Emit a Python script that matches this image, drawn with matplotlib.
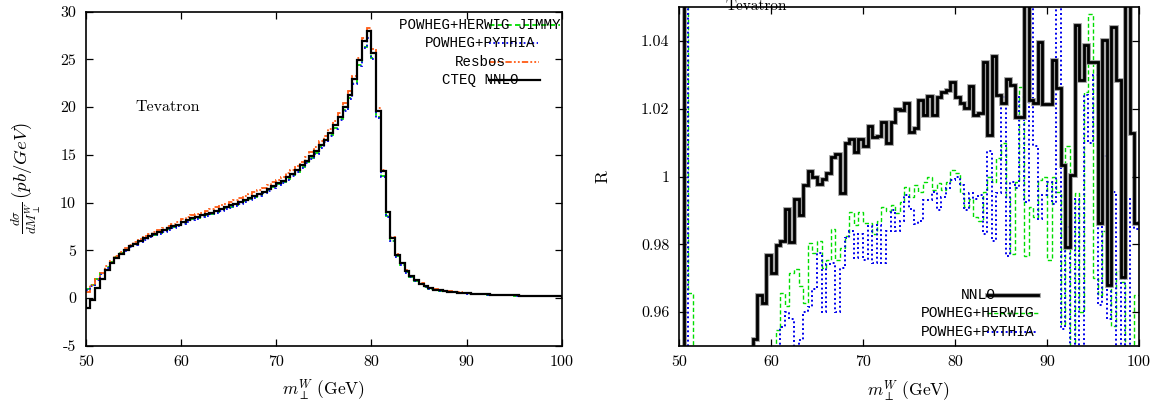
import numpy as np
import matplotlib
matplotlib.use("Agg")
import matplotlib.pyplot as plt

plt.rcParams["font.family"] = ["cmr10", "DejaVu Serif"]
plt.rcParams["mathtext.fontset"] = "cm"
plt.rcParams["axes.unicode_minus"] = False
plt.rcParams["axes.formatter.use_mathtext"] = True

# ---------------------------------------------------------------------------
# transverse-mass histograms, 0.5 GeV bins from 50 to 100 GeV
bin_edges = np.arange(50.0, 100.01, 0.5)

cteq_nnlo = [
    -1.0, -0.2, 1.05, 2.0, 2.95, 3.7, 4.2, 4.65, 5.05, 5.4,
    5.7, 6.0, 6.25, 6.5, 6.7, 6.9, 7.1, 7.3, 7.5, 7.7,
    7.95, 8.15, 8.35, 8.5, 8.65, 8.8, 8.95, 9.1, 9.3, 9.5,
    9.7, 9.85, 10.05, 10.25, 10.45, 10.7, 10.9, 11.15, 11.45, 11.75,
    12.0, 12.3, 12.65, 13.0, 13.4, 13.95, 14.4, 14.9, 15.4, 16.0,
    16.6, 17.3, 18.1, 19.0, 20.0, 21.3, 22.9, 24.9, 26.9, 28.0,
    25.7, 19.6, 13.3, 9.0, 6.3, 4.5, 3.65, 2.8, 2.26, 1.85,
    1.5, 1.22, 1.0, 0.88, 0.8, 0.72, 0.66, 0.61, 0.56, 0.52,
    0.48, 0.45, 0.42, 0.39, 0.37, 0.35, 0.33, 0.31, 0.3, 0.28,
    0.27, 0.26, 0.24, 0.23, 0.22, 0.21, 0.2, 0.19, 0.18, 0.17,
]
resbos = [
    0.6, 1.4, 2.0, 2.6, 3.3, 3.85, 4.4, 4.85, 5.2, 5.55,
    5.85, 6.15, 6.45, 6.7, 6.95, 7.15, 7.35, 7.55, 7.8, 8.0,
    8.25, 8.45, 8.65, 8.8, 8.95, 9.15, 9.3, 9.5, 9.7, 9.9,
    10.1, 10.25, 10.45, 10.65, 10.85, 11.1, 11.3, 11.55, 11.85, 12.15,
    12.4, 12.7, 13.05, 13.4, 13.8, 14.3, 14.8, 15.3, 15.8, 16.4,
    17.0, 17.7, 18.5, 19.4, 20.4, 21.7, 23.3, 25.2, 27.2, 28.3,
    26.1, 19.9, 13.4, 9.0, 6.35, 4.6, 3.7, 2.9, 2.3, 1.9,
    1.55, 1.27, 1.05, 0.92, 0.83, 0.75, 0.68, 0.63, 0.58, 0.54,
    0.5, 0.46, 0.43, 0.4, 0.38, 0.36, 0.34, 0.32, 0.3, 0.29,
    0.28, 0.26, 0.25, 0.24, 0.23, 0.21, 0.2, 0.19, 0.18, 0.17,
]
powheg_herwig = [
    0.9, 1.4, 2.0, 2.6, 3.2, 3.8, 4.3, 4.7, 5.05, 5.4,
    5.7, 5.95, 6.2, 6.45, 6.65, 6.85, 7.05, 7.25, 7.45, 7.65,
    7.85, 8.05, 8.25, 8.4, 8.55, 8.7, 8.85, 9.0, 9.2, 9.4,
    9.55, 9.75, 9.95, 10.15, 10.35, 10.55, 10.8, 11.05, 11.3, 11.6,
    11.9, 12.2, 12.5, 12.85, 13.25, 13.75, 14.2, 14.7, 15.2, 15.8,
    16.45, 17.1, 17.85, 18.75, 19.7, 21.0, 22.5, 24.4, 26.3, 27.3,
    25.1, 19.0, 12.8, 8.6, 6.0, 4.35, 3.5, 2.7, 2.18, 1.78,
    1.45, 1.2, 0.98, 0.86, 0.78, 0.7, 0.64, 0.6, 0.55, 0.51,
    0.47, 0.44, 0.41, 0.38, 0.36, 0.34, 0.32, 0.3, 0.29, 0.28,
    0.26, 0.25, 0.24, 0.23, 0.22, 0.21, 0.2, 0.19, 0.18, 0.17,
]
powheg_pythia = [
    0.8, 1.3, 1.9, 2.5, 3.1, 3.7, 4.2, 4.6, 4.95, 5.3,
    5.6, 5.85, 6.1, 6.35, 6.55, 6.75, 6.95, 7.15, 7.35, 7.55,
    7.75, 7.95, 8.15, 8.3, 8.45, 8.6, 8.75, 8.9, 9.1, 9.3,
    9.45, 9.65, 9.85, 10.05, 10.25, 10.45, 10.7, 10.95, 11.2, 11.5,
    11.8, 12.1, 12.4, 12.75, 13.15, 13.65, 14.1, 14.6, 15.1, 15.7,
    16.35, 17.0, 17.75, 18.65, 19.6, 20.9, 22.4, 24.3, 26.2, 27.2,
    25.0, 18.9, 12.7, 8.5, 5.95, 4.3, 3.45, 2.65, 2.15, 1.75,
    1.43, 1.18, 0.97, 0.85, 0.77, 0.69, 0.63, 0.59, 0.54, 0.5,
    0.46, 0.43, 0.4, 0.37, 0.35, 0.33, 0.31, 0.3, 0.28, 0.27,
    0.26, 0.25, 0.24, 0.23, 0.22, 0.21, 0.2, 0.19, 0.18, 0.17,
]

# ratios R per bin (values outside 0.95-1.05 run off the frame)
ratio_nnlo = [
    1.20, 0.90, 0.90, 0.90, 0.90, 0.90, 0.90, 0.90, 0.90, 0.90,
    0.90, 0.90, 0.90, 0.90, 0.90, 0.90, 0.952, 0.965, 0.9627, 0.9768,
    0.9714, 0.9798, 0.981, 0.9904, 0.9808, 0.9934, 0.9886, 0.9975, 1.0016, 1.0000,
    0.9977, 0.9994, 1.001, 1.0058, 1.0066, 0.995, 1.010, 1.011, 1.0073, 1.011,
    1.009, 1.015, 1.0117, 1.012, 1.016, 1.010, 1.016, 1.020, 1.0196, 1.0216,
    1.0132, 1.0142, 1.0226, 1.018, 1.0237, 1.018, 1.0235, 1.025, 1.0255, 1.028,
    1.0235, 1.0216, 1.0201, 1.0267, 1.0181, 1.0188, 1.0339, 1.0122, 1.0354, 1.0241,
    1.0216, 1.0288, 1.027, 1.0176, 1.0176, 1.10, 1.0226, 1.0216, 1.0398, 1.0214,
    1.0214, 1.0344, 1.026, 1.0035, 0.9793, 1.0005, 1.0447, 1.0285, 1.0388, 1.0339,
    1.0339, 0.9862, 1.0403, 0.968, 1.044, 1.0285, 0.9705, 1.10, 1.0127, 0.9862,
]
ratio_herwig = [
    0.90, 1.10, 0.9656, 0.90, 0.90, 0.90, 0.90, 0.90, 0.90, 0.90,
    0.90, 0.90, 0.90, 0.90, 0.90, 0.90, 0.90, 0.90, 0.90, 0.90,
    0.90, 0.9547, 0.9657, 0.9618, 0.9714, 0.9726, 0.9677, 0.9626, 0.9805, 0.9775,
    0.9810, 0.9729, 0.9754, 0.9844, 0.9754, 0.9788, 0.9825, 0.9894, 0.9857, 0.9896,
    0.9864, 0.9864, 0.983, 0.9870, 0.9911, 0.9898, 0.9915, 0.9893, 0.9925, 0.9968,
    0.9941, 0.9975, 0.9955, 0.9985, 1.0000, 0.9960, 0.9980, 0.9960, 0.9985, 1.0020,
    1.0010, 0.9950, 0.9910, 0.9935, 0.9880, 0.9870, 0.9955, 1.0000, 0.9985, 1.0055,
    1.0100, 0.9940, 0.9770, 0.9985, 1.0265, 0.9765, 0.9910, 0.9880, 0.9990, 1.0000,
    0.9755, 1.0000, 0.9955, 0.9565, 1.0090, 0.9400, 0.9950, 0.9600, 1.0250, 1.0480,
    0.9700, 0.9650, 0.9840, 0.9970, 0.9560, 0.9720, 0.9690, 0.9500, 0.9400, 0.9650,
]
ratio_pythia = [
    0.90, 1.10, 0.90, 0.90, 0.90, 0.90, 0.90, 0.90, 0.90, 0.90,
    0.90, 0.90, 0.90, 0.90, 0.90, 0.90, 0.90, 0.90, 0.90, 0.90,
    0.90, 0.90, 0.9557, 0.9601, 0.9580, 0.90, 0.9518, 0.9600, 0.9615, 0.9668,
    0.9775, 0.9600, 0.9742, 0.9745, 0.9600, 0.9730, 0.9820, 0.9840, 0.9760, 0.9830,
    0.9755, 0.9855, 0.9745, 0.9858, 0.9745, 0.9840, 0.9900, 0.9840, 0.9870, 0.9945,
    0.9905, 0.9860, 0.9870, 0.9930, 0.9930, 0.9955, 0.9900, 0.9940, 0.9965, 0.9990,
    1.0000, 0.9975, 0.9900, 0.9950, 0.9935, 0.9945, 0.9830, 1.0075, 0.9810, 0.9950,
    1.0235, 0.9765, 0.9985, 0.9965, 1.0235, 0.9925, 1.0600, 1.0090, 0.9875, 0.9945,
    0.9985, 0.9920, 1.0800, 0.9550, 0.9850, 0.9200, 0.9935, 0.9200, 1.0240, 1.0100,
    1.0300, 0.9620, 1.0060, 0.9580, 0.9955, 0.9300, 0.9955, 0.9300, 0.9935, 0.9845,
]

x_ticks = [50, 60, 70, 80, 90, 100]
x_tick_labels = ["50", "60", "70", "80", "90", "100"]
left_y_ticks = [-5, 0, 5, 10, 15, 20, 25, 30]
left_y_tick_labels = ["-5", "0", "5", "10", "15", "20", "25", "30"]
right_y_ticks = [0.96, 0.98, 1.0, 1.02, 1.04]
right_y_tick_labels = ["0.96", "0.98", "1", "1.02", "1.04"]

left_names = ["POWHEG+HERWIG JIMMY", "POWHEG+PYTHIA", "Resbos", "CTEQ NNLO"]
right_names = ["NNLO", "POWHEG+HERWIG", "POWHEG+PYTHIA"]

GREEN = "#00dd00"
BLUE = "#0000ee"
ORANGE = "#ff5a14"
GREY = "#9a9a9a"

dashed = (0, (3.0, 1.8))
dotted = (0, (1.0, 1.4))
dashdotdot = (0, (3.5, 1.2, 1.0, 1.2, 1.0, 1.2))

fig = plt.figure(figsize=(11.62, 4.09), dpi=100)
W, H = 1162.0, 409.0
ax1 = fig.add_axes([85.7 / W, 1 - 345.7 / H, (561.7 - 85.7) / W, (345.7 - 11.7) / H])
ax2 = fig.add_axes([679.0 / W, 1 - 346.0 / H, (1139.0 - 679.0) / W, (346.0 - 7.0) / H])

for ax in (ax1, ax2):
    ax.tick_params(direction="in", top=True, right=True, length=5, width=0.9,
                   labelsize=11.5, pad=7)
    for sp in ax.spines.values():
        sp.set_linewidth(1.2)

# ---------------- left: distributions ----------------
ax1.stairs(powheg_herwig, bin_edges, baseline=None, color=GREEN, lw=1.3, linestyle=dashed)
ax1.stairs(powheg_pythia, bin_edges, baseline=None, color=BLUE, lw=1.3, linestyle=dotted)
ax1.stairs(resbos, bin_edges, baseline=None, color=ORANGE, lw=1.3, linestyle=dashdotdot)
ax1.stairs(cteq_nnlo, bin_edges, baseline=0, color="black", lw=1.6)

ax1.set_xlim(50, 100)
ax1.set_ylim(-5, 30)
ax1.set_xticks(x_ticks, x_tick_labels)
ax1.set_yticks(left_y_ticks, left_y_tick_labels)
ax1.set_xlabel(r"$m_\perp^W$ (GeV)", fontsize=12.5, labelpad=6)
ax1.set_ylabel(r"$\frac{d\sigma}{dM_\perp^W}\,(pb/GeV)$", fontsize=13.5, labelpad=12)
ax1.text(55.2, 20.05, "Tevatron", fontsize=11.5, va="center", ha="left")

mono = dict(family="Liberation Mono", fontsize=10.2, va="center", ha="left")
key_left_x = [82.9, 85.64, 88.8, 87.43]
key_left_y = [28.64, 26.75, 24.76, 22.87]
key_left_end = [99.8, 97.5, 97.6, 97.7]
key_left_style = [(GREEN, dashed, 1.3), (BLUE, dotted, 1.3),
                  (ORANGE, dashdotdot, 1.3), ("black", "-", 1.6)]
for name, tx, ty, xe, (c, ls, lw) in zip(left_names, key_left_x, key_left_y,
                                         key_left_end, key_left_style):
    ax1.text(tx, ty, name, **mono)
    ax1.plot([92.4, xe], [ty, ty], color=c, linestyle=ls, lw=lw)

# ---------------- right: ratios ----------------
ax2.stairs(ratio_herwig, bin_edges, baseline=None, color=GREEN, lw=1.0, linestyle=dashed)
ax2.stairs(ratio_pythia, bin_edges, baseline=None, color=BLUE, lw=1.4, linestyle=dotted)
ax2.stairs(ratio_nnlo, bin_edges, baseline=None, color=GREY, lw=3.4)
ax2.stairs(ratio_nnlo, bin_edges, baseline=None, color="black", lw=2.0)

ax2.set_xlim(50, 100)
ax2.set_ylim(0.95, 1.05)
ax2.set_xticks(x_ticks, x_tick_labels)
ax2.set_yticks(right_y_ticks, right_y_tick_labels)
ax2.set_xlabel(r"$m_\perp^W$ (GeV)", fontsize=12.5, labelpad=6)
ax2.set_ylabel("R", fontsize=12.5, labelpad=22)
ax2.text(55.0, 1.0503, "Tevatron", fontsize=11, va="center", ha="left", clip_on=False)

mono_r = dict(family="Liberation Mono", fontsize=10.5, va="center", ha="left")
key_right_x = [80.65, 76.3, 76.3]
key_right_y = [0.9650, 0.9597, 0.9541]
for name, tx, ty in zip(right_names, key_right_x, key_right_y):
    ax2.text(tx, ty, name, **mono_r)
ax2.plot([83.5, 89.0], [key_right_y[0]] * 2, color=GREY, lw=3.4)
ax2.plot([83.5, 89.0], [key_right_y[0]] * 2, color="black", lw=2.0)
ax2.plot([83.5, 89.0], [key_right_y[1]] * 2, color=GREEN, lw=1.0, linestyle=dashed)
ax2.plot([83.5, 89.0], [key_right_y[2]] * 2, color=BLUE, lw=1.4, linestyle=dotted)

fig.savefig("out.png", dpi=100)
